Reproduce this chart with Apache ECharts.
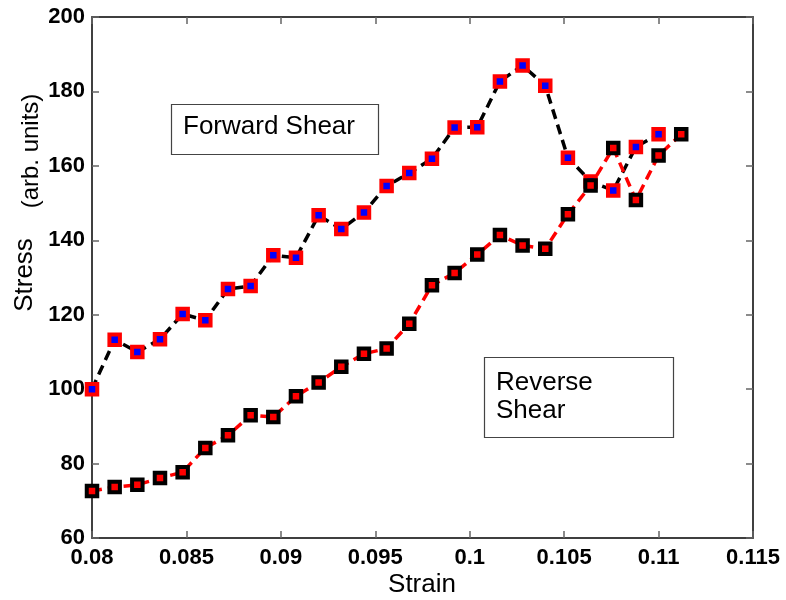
<!DOCTYPE html>
<html>
<head>
<meta charset="utf-8">
<title>Stress vs Strain</title>
<script src="https://cdn.jsdelivr.net/npm/echarts@6/dist/echarts.min.js"></script>
<style>
  html, body { margin: 0; padding: 0; background: #ffffff; }
  #chart { width: 786px; height: 600px; }
</style>
</head>
<body>
<div id="chart"></div>
<script>
// Strain values shared by both loading paths
const strain = [0.0800, 0.0812, 0.0824, 0.0836, 0.0848, 0.0860, 0.0872, 0.0884, 0.0896,
                0.0908, 0.0920, 0.0932, 0.0944, 0.0956, 0.0968, 0.0980, 0.0992, 0.1004,
                0.1016, 0.1028, 0.1040, 0.1052, 0.1064, 0.1076, 0.1088, 0.1100, 0.1112];

// Forward shear stress (arb. units), first 26 strain points
const forwardStress = [100.0, 113.3, 110.0, 113.4, 120.2, 118.5, 126.9, 127.7, 136.0,
                       135.3, 146.7, 143.0, 147.5, 154.6, 158.1, 161.9, 170.3, 170.4,
                       182.7, 187.0, 181.5, 162.2, 155.8, 153.4, 165.1, 168.5];

// Reverse shear stress (arb. units), all 27 strain points
const reverseStress = [72.6, 73.7, 74.3, 76.1, 77.7, 84.2, 87.6, 93.0, 92.5,
                       98.1, 101.8, 106.0, 109.5, 110.9, 117.6, 127.9, 131.2, 136.2,
                       141.4, 138.6, 137.7, 147.0, 154.7, 164.8, 150.8, 162.8, 168.5];

// Axis tick settings
const xTicks = { min: 0.08, max: 0.115, step: 0.005 };
const yTicks = { min: 60, max: 200, step: 20 };

const pairs = (ys) => ys.map((y, i) => [strain[i], y]);
const forwardData = pairs(forwardStress);
const reverseData = pairs(reverseStress);

const FONT = '"Liberation Sans", Arial, Helvetica, sans-serif';

const tickLabel = { color: '#000', fontFamily: FONT, fontWeight: 'bold', fontSize: 22 };
const axisLine = { show: true, lineStyle: { color: '#000', width: 1.5 } };
const axisTick = { show: true, inside: true, length: 7, lineStyle: { color: '#666', width: 1.5 } };

const chart = echarts.init(document.getElementById('chart'), null, { renderer: 'canvas' });

chart.setOption({
  animation: false,
  backgroundColor: '#ffffff',
  grid: { left: 92, right: 33, top: 17, bottom: 62, containLabel: false },
  xAxis: [
    {
      type: 'value', position: 'bottom',
      min: xTicks.min, max: xTicks.max, interval: xTicks.step,
      axisLine, axisTick,
      axisLabel: Object.assign({ margin: 9 }, tickLabel),
      splitLine: { show: false }
    },
    {
      type: 'value', position: 'top',
      min: xTicks.min, max: xTicks.max, interval: xTicks.step,
      axisLine, axisTick,
      axisLabel: { show: false },
      splitLine: { show: false }
    }
  ],
  yAxis: [
    {
      type: 'value', position: 'left',
      min: yTicks.min, max: yTicks.max, interval: yTicks.step,
      axisLine, axisTick,
      axisLabel: Object.assign({ margin: 7 }, tickLabel),
      splitLine: { show: false }
    },
    {
      type: 'value', position: 'right',
      min: yTicks.min, max: yTicks.max, interval: yTicks.step,
      axisLine, axisTick,
      axisLabel: { show: false },
      splitLine: { show: false }
    }
  ],
  series: [
    {
      name: 'Forward line', type: 'line', data: forwardData, z: 2,
      symbol: 'none', silent: true,
      lineStyle: { color: '#000', width: 3.5, type: [10, 6] }
    },
    {
      name: 'Reverse line', type: 'line', data: reverseData, z: 2,
      symbol: 'none', silent: true,
      lineStyle: { color: '#ff0000', width: 3.5, type: [10, 6] }
    },
    {
      name: 'Forward Shear', type: 'scatter', data: forwardData, z: 3,
      symbol: 'rect', symbolSize: 10.5,
      itemStyle: { color: '#0000ff', borderColor: '#ff0000', borderWidth: 4, opacity: 1 }
    },
    {
      name: 'Reverse Shear', type: 'scatter', data: reverseData, z: 4,
      symbol: 'rect', symbolSize: 10.5,
      itemStyle: { color: '#ff0000', borderColor: '#000000', borderWidth: 4, opacity: 1 }
    }
  ],
  graphic: [
    // y-axis title
    {
      type: 'text', x: 25, y: 275, rotation: Math.PI / 2,
      style: { text: 'Stress', x: 0, y: 0, align: 'center', verticalAlign: 'middle',
               font: '26px ' + FONT, fill: '#000' }
    },
    {
      type: 'text', x: 31, y: 151, rotation: Math.PI / 2,
      style: { text: '(arb. units)', x: 0, y: 0, align: 'center', verticalAlign: 'middle',
               font: '24px ' + FONT, fill: '#000' }
    },
    // x-axis title
    {
      type: 'text', x: 422, y: 585,
      style: { text: 'Strain', x: 0, y: 0, align: 'center', verticalAlign: 'middle',
               font: '26px ' + FONT, fill: '#000' }
    },
    // Forward shear annotation box
    {
      type: 'rect', shape: { x: 171.5, y: 104.5, width: 207, height: 50 },
      style: { fill: '#fff', stroke: '#444', lineWidth: 1.2 }, z: 10
    },
    {
      type: 'text', x: 183, y: 127, z: 11,
      style: { text: 'Forward Shear', x: 0, y: 0, align: 'left', verticalAlign: 'middle',
               font: '26px ' + FONT, fill: '#000' }
    },
    // Reverse shear annotation box
    {
      type: 'rect', shape: { x: 484.5, y: 357.5, width: 189, height: 80 },
      style: { fill: '#fff', stroke: '#444', lineWidth: 1.2 }, z: 10
    },
    {
      type: 'text', x: 496, y: 383, z: 11,
      style: { text: 'Reverse', x: 0, y: 0, align: 'left', verticalAlign: 'middle',
               font: '26px ' + FONT, fill: '#000' }
    },
    {
      type: 'text', x: 496, y: 411, z: 11,
      style: { text: 'Shear', x: 0, y: 0, align: 'left', verticalAlign: 'middle',
               font: '26px ' + FONT, fill: '#000' }
    }
  ]
});
</script>
</body>
</html>
